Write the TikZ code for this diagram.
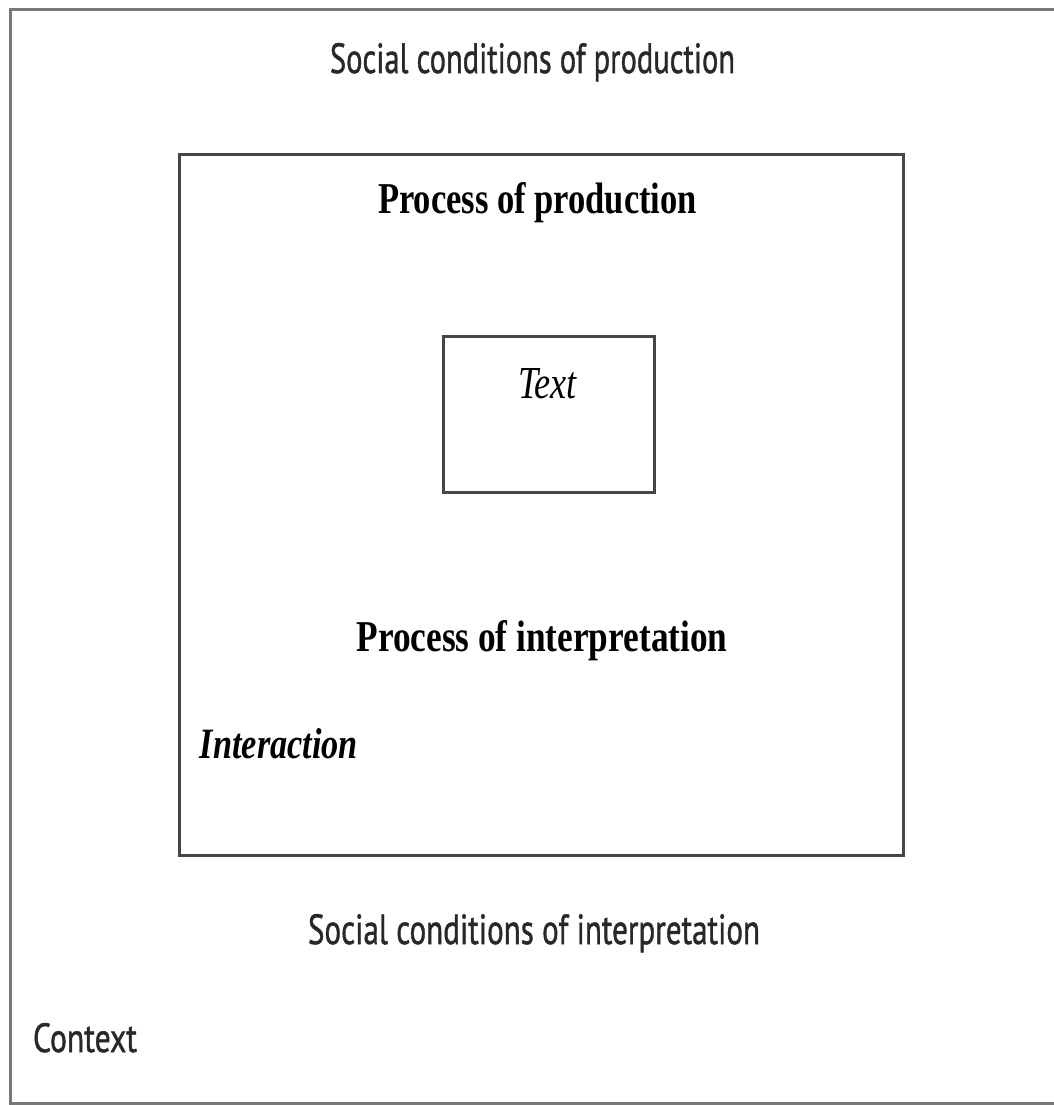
\documentclass[tikz,border=0pt]{standalone}
\usepackage{fontspec}
\usepackage{graphicx}
\setmainfont{Liberation Serif}
\newfontfamily\labelsans[FakeBold=1.2]{PT Sans}
\newcommand{\fitto}[3]{\resizebox{#1pt}{#2pt}{#3}}
\definecolor{framegray}{RGB}{120,120,120}
\definecolor{panelgray}{RGB}{70,70,70}
\definecolor{inkgray}{RGB}{40,40,40}
\begin{document}
\begin{tikzpicture}[x=1pt,y=-1pt,
  frame/.style={draw=framegray,line width=3pt},
  panel/.style={draw=panelgray,line width=3pt},
  lbl/.style={inner sep=0pt,anchor=base,text=inkgray},
  head/.style={inner sep=0pt,anchor=base,text=black}]
\useasboundingbox[fill=white] (0,0) rectangle (1054,1105);
% outer context frame (right side runs off the page)
\draw[frame] (10,10) rectangle (1070,1103);
% process box and text box
\draw[panel] (179,154) rectangle (903,855);
\draw[panel] (443,336) rectangle (654,492);
% labels
\node[lbl]  (socprod) at (532.5,73)  {\fitto{405}{30}{\labelsans Social conditions of production}};
\node[head] (procprod) at (537.5,213) {\fitto{319}{31}{\bfseries Process of production}};
\node[head] (text) at (547.5,398) {\fitto{59}{30}{\itshape Text}};
\node[head] (procint) at (542,651) {\fitto{371}{31}{\bfseries Process of interpretation}};
\node[head] (inter) at (279,758) {\fitto{158}{30}{\bfseries\itshape Interaction}};
\node[lbl]  (socint) at (534,944) {\fitto{452}{30}{\labelsans Social conditions of interpretation}};
\node[lbl]  (context) at (85,1052) {\fitto{104}{29}{\labelsans Context}};
\end{tikzpicture}
\end{document}
